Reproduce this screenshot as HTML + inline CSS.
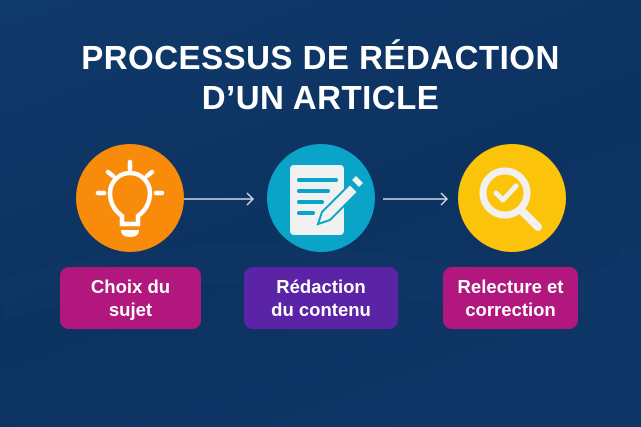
<!DOCTYPE html>
<html><head><meta charset="utf-8"><style>
body{margin:0;width:641px;height:427px;overflow:hidden;background:#0d3564;font-family:"Liberation Sans",sans-serif;}
.wrap{position:relative;width:641px;height:427px;background:linear-gradient(160deg,#103a6c 0%,#0c3260 50%,#0e3768 100%);}
h1{position:absolute;left:0;top:38px;width:641px;margin:0;text-align:center;color:#fff;font-size:33px;line-height:40px;font-weight:bold;letter-spacing:0.5px;}
.box{position:absolute;top:267px;height:62px;border-radius:9px;color:#fff;font-size:18.5px;font-weight:bold;text-align:center;display:flex;align-items:center;justify-content:center;line-height:23px;}
</style></head><body><div class="wrap">
<h1>PROCESSUS DE RÉDACTION<br>D’UN ARTICLE</h1>
<svg width="641" height="427" style="position:absolute;left:0;top:0">
<path d="M0 300 Q200 240 420 280 T641 250" stroke="#123d70" stroke-width="40" fill="none" opacity="0.25"/>
<circle cx="130" cy="198" r="54" fill="#f98b0a"/>
<circle cx="321" cy="198" r="54" fill="#0aa4c8"/>
<circle cx="512" cy="198" r="54" fill="#fbc30a"/>
<g stroke="#cfd8e4" stroke-width="1.5" fill="none">
<line x1="184" y1="199" x2="253" y2="199"/><polyline points="247,193 253,199 247,205"/>
<line x1="383" y1="199" x2="447" y2="199"/><polyline points="441,193 447,199 441,205"/>
</g>
<g stroke="#fff" stroke-width="4.5" fill="none" stroke-linecap="round">
<path d="M122 224 L122 216 Q110 207 110 193 A20 20 0 1 1 150 193 Q150 207 138 216 L138 224 Z"/>
<line x1="130" y1="162" x2="130" y2="169"/><line x1="108" y1="172" x2="113" y2="176"/><line x1="152" y1="172" x2="147" y2="176"/>
<line x1="98" y1="193" x2="104" y2="193"/><line x1="156" y1="193" x2="162" y2="193"/>
</g>
<path d="M121 230 h18 q0 7 -9 7 q-9 0 -9 -7z" fill="#fff"/>
<rect x="290" y="165" width="54" height="70" rx="4" fill="#f1f1f1"/>
<g stroke="#0aa4c8" stroke-width="4" stroke-linecap="round">
<line x1="299" y1="180" x2="336" y2="180"/><line x1="299" y1="191" x2="328" y2="191"/><line x1="299" y1="202" x2="322" y2="202"/><line x1="299" y1="213" x2="313" y2="213"/></g>
<path d="M322 212 L350 184 L358 192 L330 220 L318 224 Z" fill="#f1f1f1" stroke="#0aa4c8" stroke-width="2"/>
<path d="M352 180 L356 176 L363 183 L359 187Z" fill="#f1f1f1"/>
<circle cx="505" cy="193" r="22" stroke="#f1f1f1" stroke-width="7" fill="none"/>
<line x1="522" y1="211" x2="538" y2="227" stroke="#f1f1f1" stroke-width="8" stroke-linecap="round"/>
<polyline points="496,193 503,200 516,186" stroke="#f1f1f1" stroke-width="5" fill="none" stroke-linecap="round" stroke-linejoin="round"/>
</svg>
<div class="box" style="left:60px;width:141px;background:#b2177e">Choix du<br>sujet</div>
<div class="box" style="left:244px;width:154px;background:#5b23a6">Rédaction<br>du contenu</div>
<div class="box" style="left:443px;width:135px;background:#b2177e">Relecture et<br>correction</div>
</div></body></html>
